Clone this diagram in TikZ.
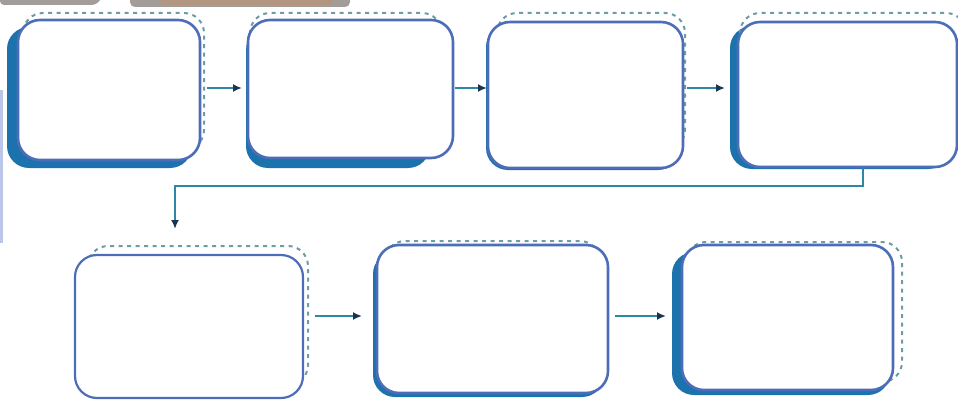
\documentclass[tikz,border=0pt]{standalone}
\usetikzlibrary{arrows.meta}
\definecolor{boxblue}{HTML}{4D6DB8}
\definecolor{shadowblue}{HTML}{1C72AC}
\definecolor{dashteal}{HTML}{6E9CA6}
\definecolor{linkteal}{HTML}{2C88A4}
\definecolor{headnavy}{HTML}{1B3550}
\definecolor{tabgrey}{HTML}{A39D99}
\definecolor{tabbrown}{HTML}{B39680}
\definecolor{stripblue}{HTML}{BCC6EA}
\tikzset{
  mainbox/.style={draw=boxblue, line width=2.6pt, fill=white, rounded corners=22pt,
    inner sep=0pt, outer sep=0pt},
  shadowbox/.style={fill=shadowblue, rounded corners=22pt},
  dashbox/.style={draw=dashteal, line width=2pt, dash pattern=on 4pt off 4.5pt, rounded corners=20pt},
  arr/.style={draw=linkteal, line width=2.2pt, -{Latex[length=9pt,width=8pt,color=headnavy]}},
}
\begin{document}
\begin{tikzpicture}[x=1pt,y=-1pt]
\useasboundingbox (0,0) rectangle (958,401);
% screenshot remnants
\fill[tabgrey] (0,0) -- (100,0) [rounded corners=4pt] -- (96,5) -- (0,5) [sharp corners] -- cycle;
\fill[tabgrey, rounded corners=5pt] (130,-8) rectangle (350,7);
\fill[tabbrown, rounded corners=4pt] (160,-8) rectangle (333,5);
\fill[stripblue] (0,90) rectangle (3,243);

% shadows
\fill[shadowbox] (7,27) rectangle (192,168);
\fill[shadowbox] (246,28) rectangle (430,168);
\fill[shadowbox] (486,25) rectangle (680,170);
\fill[shadowbox] (730,26) rectangle (950,169);
\fill[shadowbox] (373,252) rectangle (604,397);
\fill[shadowbox] (672,252) rectangle (890,395);

% dashed outlines
\draw[dashbox] (23,13) rectangle (204,150);
\draw[dashbox] (250,13) rectangle (442,150);
\draw[dashbox] (497,13) rectangle (685,150);
\draw[dashbox] (740,13) rectangle (966,150);
\draw[dashbox] (88,246) rectangle (308,385);
\draw[dashbox] (385,241) rectangle (600,380);
\draw[dashbox] (686,242) rectangle (902,382);

% main boxes
\node[mainbox, minimum width=182pt, minimum height=140pt] (b1) at (109,90) {};
\node[mainbox, minimum width=205pt, minimum height=138pt] (b2) at (350.5,89) {};
\node[mainbox, minimum width=195pt, minimum height=146pt] (b3) at (585.5,95) {};
\node[mainbox, minimum width=219pt, minimum height=145pt] (b4) at (847.5,94.5) {};
\node[mainbox, line width=2.2pt, minimum width=228pt, minimum height=143pt] (b5) at (189,326.5) {};
\node[mainbox, minimum width=231pt, minimum height=148pt] (b6) at (492.5,319) {};
\node[mainbox, minimum width=211pt, minimum height=145pt] (b7) at (787.5,317.5) {};

% connectors
\coordinate (r1) at (0,88);
\coordinate (r2) at (0,316);
\draw[arr] ([xshift=7]b1.east |- r1) -- ([xshift=-6]b2.west |- r1);
\draw[arr] ([xshift=2]b2.east |- r1) -- ([xshift=-1]b3.west |- r1);
\draw[arr] ([xshift=4]b3.east |- r1) -- ([xshift=-13]b4.west |- r1);
\coordinate (turn) at (863,186);
\coordinate (drop) at (175,229);
\draw[arr] (b4.south -| turn) -- (turn) -- (turn -| drop) -- (drop);
\draw[arr] ([xshift=12]b5.east |- r2) -- ([xshift=-15]b6.west |- r2);
\draw[arr] ([xshift=7]b6.east |- r2) -- ([xshift=-16]b7.west |- r2);
\end{tikzpicture}
\end{document}
